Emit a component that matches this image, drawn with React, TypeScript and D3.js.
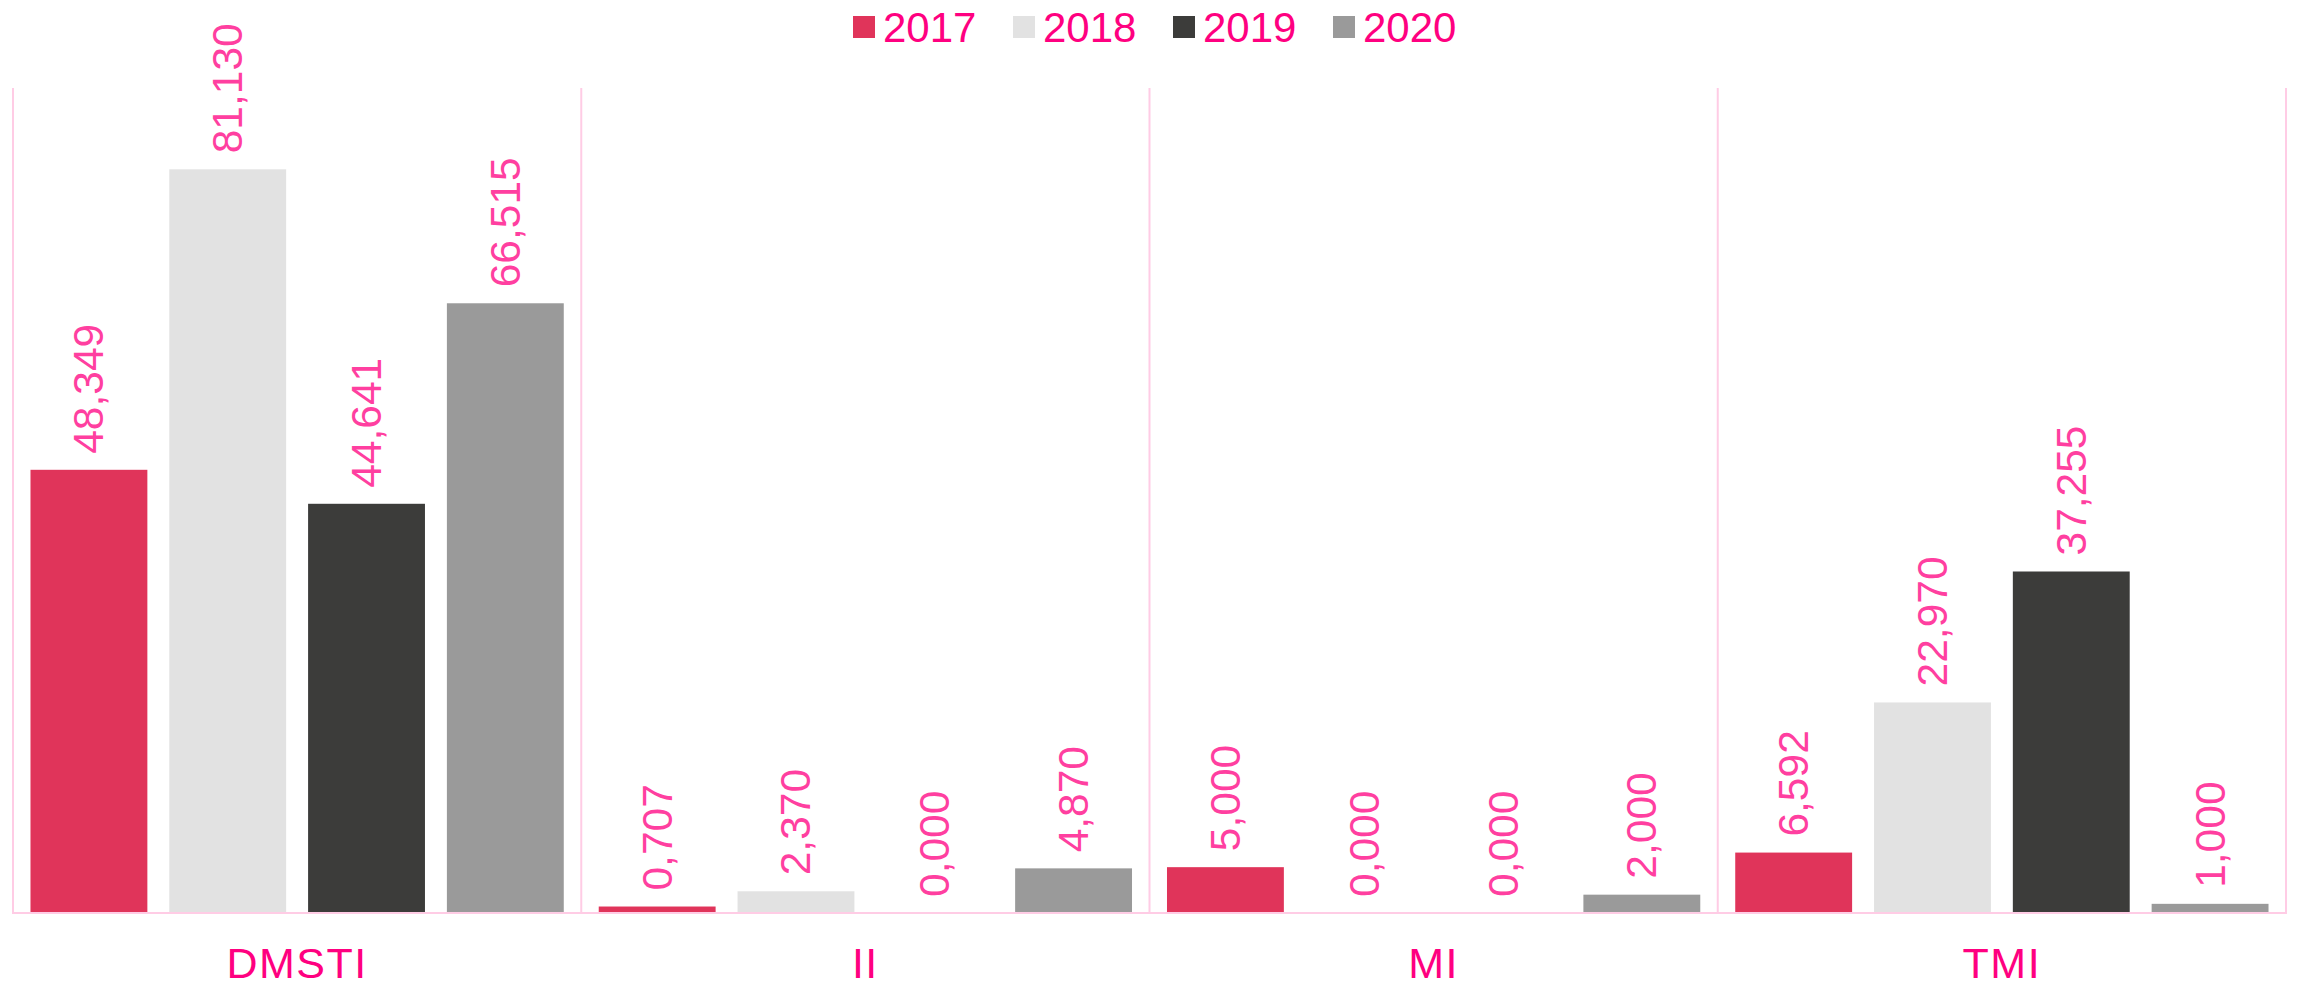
import React from "react";
import * as d3 from "d3";

const categories = ["DMSTI", "II", "MI", "TMI"];
const seriesNames = ["2017", "2018", "2019", "2020"];
const values2017 = [48.349, 0.707, 5.0, 6.592];
const values2018 = [81.13, 2.37, 0.0, 22.97];
const values2019 = [44.641, 0.0, 0.0, 37.255];
const values2020 = [66.515, 4.87, 2.0, 1.0];
const seriesColors = ["#E0345A", "#E2E2E2", "#3C3C3A", "#9A9A9A"];

const W = 2297;
const H = 986;
const M = { left: 13, right: 2286, top: 88, bottom: 913 };

export default function App() {
  const series = [values2017, values2018, values2019, values2020];
  const x0 = d3.scaleBand<string>().domain(categories).range([M.left, M.right]).padding(0);
  const x1 = d3
    .scaleBand<string>()
    .domain(seriesNames)
    .range([0, x0.bandwidth()])
    .paddingInner(0.158)
    .paddingOuter(0.126);
  const y = d3.scaleLinear().domain([0, 90]).range([M.bottom, M.top]);
  const fmt = (v: number) => d3.format(".3f")(v).replace(".", ",");

  const gridColor = "#FFCCE5";
  const boundaries = [...categories.map((c) => x0(c)!), M.right];

  const legendX = d3.scalePoint<string>().domain(seriesNames).range([853, 1333]);

  return (
    <svg
      width={W}
      height={H}
      style={{ position: "absolute", left: 0, top: 0, background: "#fff" }}
      fontFamily="'Liberation Sans', Arial, sans-serif"
    >
      {/* legend */}
      {seriesNames.map((s, i) => (
        <g key={s}>
          <rect x={legendX(s)} y={16} width={22} height={22} fill={seriesColors[i]} />
          <text x={legendX(s)! + 30} y={41.5} fontSize={42} fill="#FF0080">
            {s}
          </text>
        </g>
      ))}

      {/* bars */}
      {categories.map((c, ci) => (
        <g key={c} transform={`translate(${x0(c)},0)`}>
          {seriesNames.map((s, si) => {
            const v = series[si][ci];
            return (
              <rect
                key={s}
                x={x1(s)}
                y={y(v)}
                width={x1.bandwidth()}
                height={M.bottom - y(v)}
                fill={seriesColors[si]}
              />
            );
          })}
          {seriesNames.map((s, si) => {
            const v = series[si][ci];
            const cx = x1(s)! + x1.bandwidth() / 2;
            const ty = y(v) - 16;
            return (
              <text
                key={s + "l"}
                transform={`translate(${cx},${ty}) rotate(-90)`}
                textAnchor="start"
                dominantBaseline="central"
                fontSize={42.5}
                fill="#FF3FA0"
              >
                {fmt(v)}
              </text>
            );
          })}
          <text
            x={x0.bandwidth() / 2}
            y={978}
            textAnchor="middle"
            fontSize={43}
            letterSpacing={1.5}
            fill="#FF0080"
          >
            {c}
          </text>
        </g>
      ))}

      {/* grid / separators */}
      {boundaries.map((bx, i) => (
        <line key={i} x1={bx} x2={bx} y1={M.top} y2={M.bottom} stroke={gridColor} strokeWidth={2} />
      ))}
      <line x1={M.left - 1} x2={M.right + 1} y1={M.bottom} y2={M.bottom} stroke={gridColor} strokeWidth={2} />
    </svg>
  );
}
